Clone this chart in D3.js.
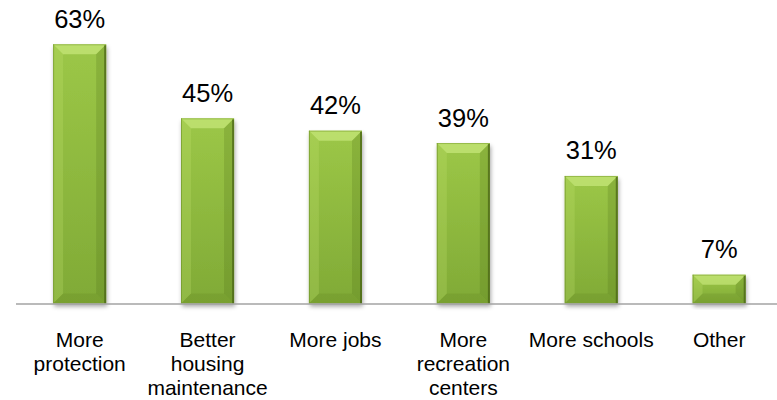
<!DOCTYPE html>
<html>
<head>
<meta charset="utf-8">
<script src="https://cdn.jsdelivr.net/npm/d3@7"></script>
<style>
  html, body { margin: 0; padding: 0; background: #fff; }
  svg { display: block; }
  text { font-family: "Liberation Sans", Arial, sans-serif; fill: #000; }
</style>
</head>
<body>
<svg id="chart" width="777" height="400"></svg>
<script>
// Survey answers: what would improve the neighbourhood
const categories = ["More protection", "Better housing maintenance", "More jobs",
                    "More recreation centers", "More schools", "Other"];
const categoryLines = [["More", "protection"], ["Better", "housing", "maintenance"],
                       ["More jobs"], ["More", "recreation", "centers"],
                       ["More schools"], ["Other"]];
const values = [63, 45, 42, 39, 31, 7];
const valueLabels = ["63%", "45%", "42%", "39%", "31%", "7%"];

const svg = d3.select("#chart");
const baseY = 303.5;

const x = d3.scaleBand()
  .domain(categories)
  .range([15.7, 783.1])
  .paddingInner(0.585)
  .paddingOuter(0.2925);

const y = d3.scaleLinear().domain([0, 70]).range([baseY, 15.5]);

const defs = svg.append("defs");
const grad = defs.append("linearGradient")
  .attr("id", "barFill").attr("x1", 0).attr("y1", 0).attr("x2", 0).attr("y2", 1);
grad.append("stop").attr("offset", "0%").attr("stop-color", "#9cc747");
grad.append("stop").attr("offset", "100%").attr("stop-color", "#80aa36");

const shadow = defs.append("filter").attr("id", "barShadow")
  .attr("x", "-20%").attr("y", "-10%").attr("width", "140%").attr("height", "130%");
shadow.append("feDropShadow")
  .attr("dx", 1).attr("dy", 3).attr("stdDeviation", 2.2)
  .attr("flood-color", "#000").attr("flood-opacity", 0.35);

const bars = svg.append("g").selectAll("g.bar")
  .data(categories)
  .join("g").attr("class", "bar");

bars.each(function (c, i) {
  const g = d3.select(this);
  const x0 = x(c), w = x.bandwidth();
  const y0 = y(values[i]), h = baseY - y0;
  const x1 = x0 + w, y1 = baseY;
  const b = Math.min(10, w / 2, h / 2);

  g.append("rect")
    .attr("x", x0).attr("y", y0).attr("width", w).attr("height", h)
    .attr("fill", "url(#barFill)")
    .attr("filter", "url(#barShadow)");

  // bevel facets
  const facet = (pts, fill, op) => g.append("polygon")
    .attr("points", pts.map(p => p.join(",")).join(" "))
    .attr("fill", fill).attr("fill-opacity", op);
  facet([[x0, y0], [x1, y0], [x1 - b, y0 + b], [x0 + b, y0 + b]], "#d6f28a", 0.55);
  facet([[x0, y0], [x0 + b, y0 + b], [x0 + b, y1 - b], [x0, y1]], "#c4e370", 0.25);
  facet([[x1, y0], [x1, y1], [x1 - b, y1 - b], [x1 - b, y0 + b]], "#4f6d17", 0.22);
  facet([[x0, y1], [x0 + b, y1 - b], [x1 - b, y1 - b], [x1, y1]], "#4f6d17", 0.15);

  // dark rims
  g.append("line")
    .attr("x1", x1 - 1).attr("x2", x1 - 1).attr("y1", y0 + 1).attr("y2", y1)
    .attr("stroke", "#4a6416").attr("stroke-width", 2).attr("stroke-opacity", 0.75);
  g.append("line")
    .attr("x1", x0 + 0.5).attr("x2", x0 + 0.5).attr("y1", y0).attr("y2", y1)
    .attr("stroke", "#6b8f26").attr("stroke-width", 1).attr("stroke-opacity", 0.6);
  g.append("line")
    .attr("x1", x0).attr("x2", x1).attr("y1", y0 + 0.5).attr("y2", y0 + 0.5)
    .attr("stroke", "#7ea332").attr("stroke-width", 1).attr("stroke-opacity", 0.6);
});

// baseline
svg.append("line")
  .attr("x1", 16).attr("x2", 777).attr("y1", baseY + 0.5).attr("y2", baseY + 0.5)
  .attr("stroke", "#a3a3a3").attr("stroke-width", 1.6);

// value labels
svg.append("g").selectAll("text")
  .data(categories)
  .join("text")
  .attr("x", c => x(c) + x.bandwidth() / 2)
  .attr("y", (c, i) => y(values[i]) - 16.5)
  .attr("text-anchor", "middle")
  .attr("font-size", 25.5)
  .text((c, i) => valueLabels[i]);

// category labels
const cat = svg.append("g").selectAll("text")
  .data(categories)
  .join("text")
  .attr("x", c => x(c) + x.bandwidth() / 2)
  .attr("y", 347)
  .attr("text-anchor", "middle")
  .attr("font-size", 21);
cat.each(function (c, i) {
  const t = d3.select(this);
  categoryLines[i].forEach((line, k) => {
    t.append("tspan")
      .attr("x", x(c) + x.bandwidth() / 2)
      .attr("dy", k === 0 ? 0 : 24)
      .text(line);
  });
});
</script>
</body>
</html>
